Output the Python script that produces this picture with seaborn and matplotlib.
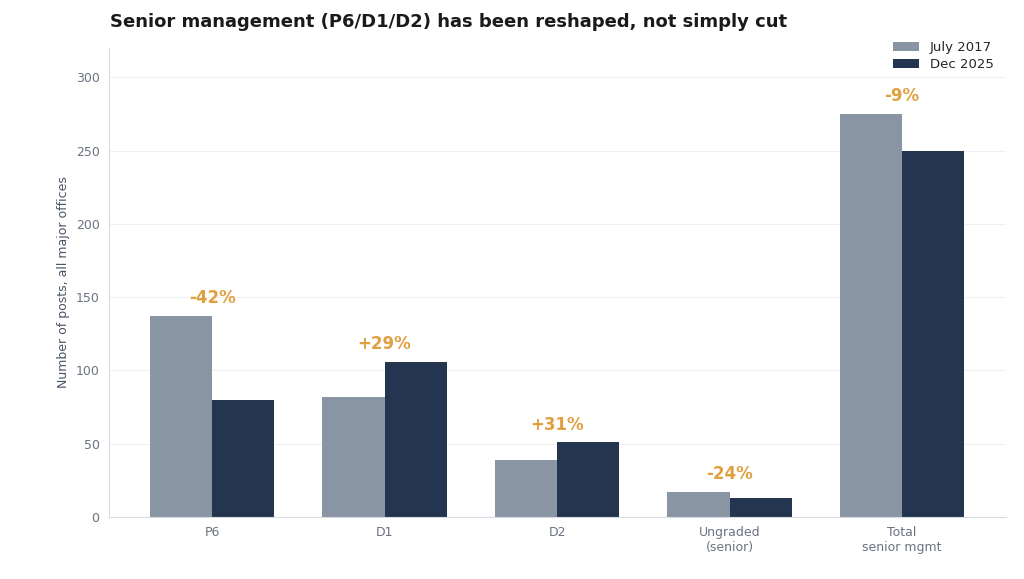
import pandas as pd
import seaborn as sns
import matplotlib.pyplot as plt

categories = ["P6", "D1", "D2", "Ungraded\n(senior)", "Total\nsenior mgmt"]
july_2017 = [137, 82, 39, 17, 275]
dec_2025 = [80, 106, 51, 13, 250]
change_labels = ["-42%", "+29%", "+31%", "-24%", "-9%"]

df = pd.DataFrame({
    "category": categories * 2,
    "period": ["July 2017"] * 5 + ["Dec 2025"] * 5,
    "value": july_2017 + dec_2025,
})

sns.set_style("white")
fig = plt.figure(figsize=(10.24, 5.79), dpi=100)
ax = fig.add_axes([0.106, 0.107, 0.876, 0.81])

sns.barplot(data=df, x="category", y="value", hue="period",
            palette={"July 2017": "#8a95a3", "Dec 2025": "#243550"},
            width=0.72, gap=0, ax=ax, saturation=1, linewidth=0)

for i, lab in enumerate(change_labels):
    top = max(july_2017[i], dec_2025[i])
    ax.text(i, top + 6, lab, ha="center", va="bottom",
            color="#e0a040", fontsize=12, fontweight="bold")

ax.set_xlim(-0.6, 4.6)
ax.set_ylim(0, 320)
ax.set_yticks(range(0, 301, 50))
ax.yaxis.grid(True, color="#eef0f3", linewidth=0.8)
ax.set_axisbelow(True)
ax.set_xlabel("")
ax.set_ylabel("Number of posts, all major offices", fontsize=9, color="#4a5568")
ax.tick_params(colors="#6b7280", labelsize=9, length=3)
for s in ["top", "right"]:
    ax.spines[s].set_visible(False)
for s in ["left", "bottom"]:
    ax.spines[s].set_color("#d8dce2")
ax.legend(title=None, frameon=False, loc="upper right", fontsize=9.5,
          bbox_to_anchor=(1.0, 1.04), labelspacing=0.3)
fig.text(0.107, 0.962, "Senior management (P6/D1/D2) has been reshaped, not simply cut",
         fontsize=13, fontweight="bold", color="#1a1a1a", va="center")
fig.savefig("out.png", dpi=100)
